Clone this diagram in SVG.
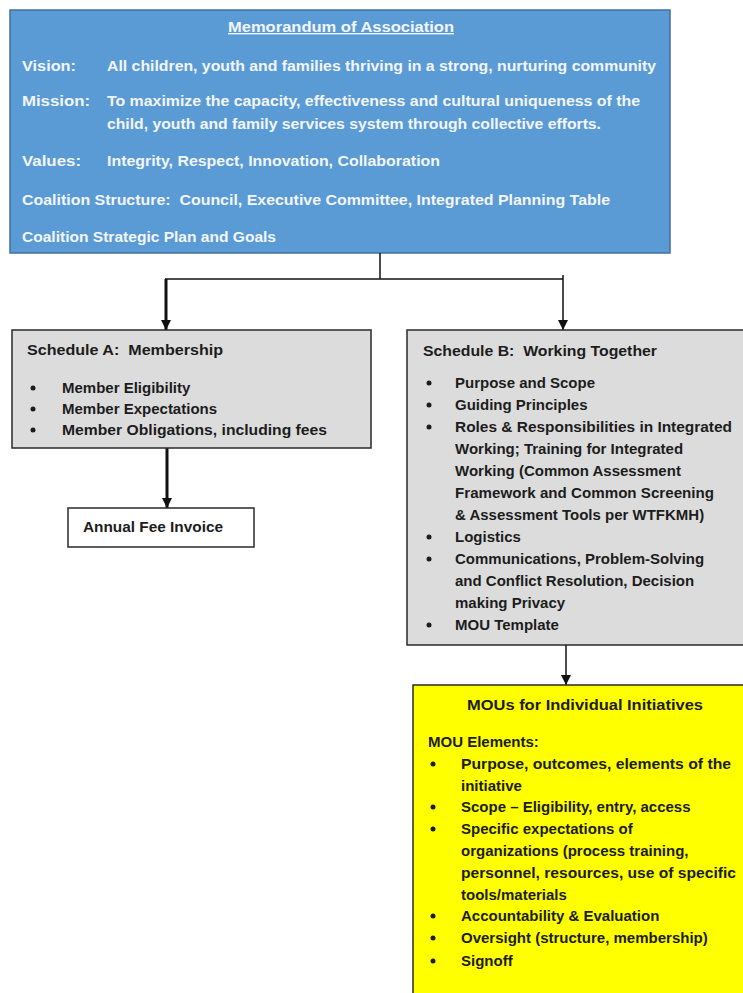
<svg xmlns="http://www.w3.org/2000/svg" width="743" height="993" viewBox="0 0 743 993">
<defs>
<style>
text{font-family:"Liberation Sans",Arial,sans-serif;font-weight:bold;font-size:15px;fill:#1c1c1c}
.w{fill:#f2f6fb;font-size:14px}
.blue{fill:#5b9bd5;stroke:#41719c;stroke-width:1.5}
.grey{fill:#dcdcdc;stroke:#2a2a2a;stroke-width:1.5}
.white{fill:#ffffff;stroke:#2a2a2a;stroke-width:1.5}
.yellow{fill:#ffff00;stroke:#2a2a2a;stroke-width:1.5}
.ln{fill:none;stroke:#111;stroke-width:1.5}
.thick{fill:none;stroke:#111;stroke-width:3}
.dot{fill:#1c1c1c}
</style>
<marker id="ah" viewBox="0 0 10 10" refX="10" refY="5" markerWidth="10" markerHeight="10" markerUnits="userSpaceOnUse" orient="auto">
<path d="M0,0 L10,5 L0,10 Z" fill="#111"/>
</marker>
</defs>
<rect width="743" height="993" fill="#ffffff"/>

<g id="memorandum">
<rect class="blue" x="10" y="10" width="660" height="243"/>
<text class="w" x="341" y="32" text-anchor="middle" text-decoration="underline" textLength="226" lengthAdjust="spacingAndGlyphs">Memorandum of Association</text>
<text class="w" x="22" y="71" textLength="54" lengthAdjust="spacingAndGlyphs">Vision:</text>
<text class="w" x="107" y="71" textLength="549" lengthAdjust="spacingAndGlyphs">All children, youth and families thriving in a strong, nurturing community</text>
<text class="w" x="22" y="106" textLength="68" lengthAdjust="spacingAndGlyphs">Mission:</text>
<text class="w" x="107" y="106" textLength="533" lengthAdjust="spacingAndGlyphs">To maximize the capacity, effectiveness and cultural uniqueness of the</text>
<text class="w" x="107" y="129" textLength="494" lengthAdjust="spacingAndGlyphs">child, youth and family services system through collective efforts.</text>
<text class="w" x="22" y="166" textLength="59" lengthAdjust="spacingAndGlyphs">Values:</text>
<text class="w" x="107" y="166" textLength="333" lengthAdjust="spacingAndGlyphs">Integrity, Respect, Innovation, Collaboration</text>
<text class="w" x="22" y="205" textLength="588" lengthAdjust="spacingAndGlyphs" xml:space="preserve">Coalition Structure:  Council, Executive Committee, Integrated Planning Table</text>
<text class="w" x="22" y="242" textLength="254" lengthAdjust="spacingAndGlyphs">Coalition Strategic Plan and Goals</text>
</g>

<g id="connectors">
<line class="ln" x1="380" y1="253" x2="380" y2="279"/>
<line class="ln" x1="165" y1="279" x2="563" y2="279"/>
<line class="thick" x1="166" y1="279" x2="166" y2="330" marker-end="url(#ah)"/>
<line class="ln" x1="563" y1="275" x2="563" y2="330" marker-end="url(#ah)"/>
<line class="thick" x1="167" y1="448" x2="167" y2="508" marker-end="url(#ah)"/>
<line class="ln" x1="566" y1="645" x2="566" y2="685" marker-end="url(#ah)"/>
</g>

<g id="scheduleA">
<rect class="grey" x="12" y="330" width="359" height="118"/>
<text x="27" y="355" xml:space="preserve" textLength="196" lengthAdjust="spacingAndGlyphs">Schedule A:  Membership</text>
<circle class="dot" cx="33" cy="388" r="2.5"/>
<text x="62" y="393">Member Eligibility</text>
<circle class="dot" cx="33" cy="409" r="2.5"/>
<text x="62" y="414">Member Expectations</text>
<circle class="dot" cx="33" cy="430" r="2.5"/>
<text x="62" y="435" textLength="265" lengthAdjust="spacingAndGlyphs">Member Obligations, including fees</text>
</g>

<g id="annualFee">
<rect class="white" x="68" y="508" width="186" height="39"/>
<text x="83" y="532" textLength="140" lengthAdjust="spacingAndGlyphs">Annual Fee Invoice</text>
</g>

<g id="scheduleB">
<rect class="grey" x="407" y="330" width="345" height="315"/>
<text x="423" y="356" xml:space="preserve" textLength="234" lengthAdjust="spacingAndGlyphs">Schedule B:  Working Together</text>
<circle class="dot" cx="429" cy="383" r="2.5"/>
<text x="455" y="388">Purpose and Scope</text>
<circle class="dot" cx="429" cy="405" r="2.5"/>
<text x="455" y="410">Guiding Principles</text>
<circle class="dot" cx="429" cy="427" r="2.5"/>
<text x="455" y="432" textLength="277" lengthAdjust="spacingAndGlyphs">Roles &amp; Responsibilities in Integrated</text>
<text x="455" y="454">Working; Training for Integrated</text>
<text x="455" y="476">Working (Common Assessment</text>
<text x="455" y="498" textLength="259" lengthAdjust="spacingAndGlyphs">Framework and Common Screening</text>
<text x="455" y="520">&amp; Assessment Tools per WTFKMH)</text>
<circle class="dot" cx="429" cy="537" r="2.5"/>
<text x="455" y="542">Logistics</text>
<circle class="dot" cx="429" cy="559" r="2.5"/>
<text x="455" y="564">Communications, Problem-Solving</text>
<text x="455" y="586">and Conflict Resolution, Decision</text>
<text x="455" y="608">making Privacy</text>
<circle class="dot" cx="429" cy="625" r="2.5"/>
<text x="455" y="630">MOU Template</text>
</g>

<g id="mous">
<rect class="yellow" x="413" y="685" width="340" height="320"/>
<text x="585" y="710" text-anchor="middle" textLength="236" lengthAdjust="spacingAndGlyphs">MOUs for Individual Initiatives</text>
<text x="428" y="747">MOU Elements:</text>
<circle class="dot" cx="433" cy="764" r="2.5"/>
<text x="461" y="769" textLength="270" lengthAdjust="spacingAndGlyphs">Purpose, outcomes, elements of the</text>
<text x="461" y="791">initiative</text>
<circle class="dot" cx="433" cy="807" r="2.5"/>
<text x="461" y="812">Scope – Eligibility, entry, access</text>
<circle class="dot" cx="433" cy="829" r="2.5"/>
<text x="461" y="834">Specific expectations of</text>
<text x="461" y="856">organizations (process training,</text>
<text x="461" y="878" textLength="275" lengthAdjust="spacingAndGlyphs">personnel, resources, use of specific</text>
<text x="461" y="900">tools/materials</text>
<circle class="dot" cx="433" cy="916" r="2.5"/>
<text x="461" y="921">Accountability &amp; Evaluation</text>
<circle class="dot" cx="433" cy="938" r="2.5"/>
<text x="461" y="943">Oversight (structure, membership)</text>
<circle class="dot" cx="433" cy="961" r="2.5"/>
<text x="461" y="966">Signoff</text>
</g>
</svg>
